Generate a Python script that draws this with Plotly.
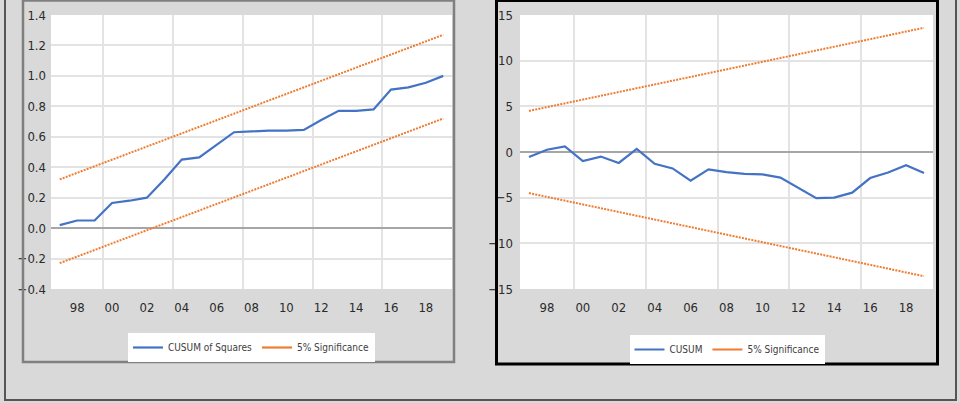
import plotly.graph_objects as go

years = [1997, 1998, 1999, 2000, 2001, 2002, 2003, 2004, 2005, 2006, 2007, 2008,
         2009, 2010, 2011, 2012, 2013, 2014, 2015, 2016, 2017, 2018, 2019]

tick_years = [1998, 2000, 2002, 2004, 2006, 2008, 2010, 2012, 2014, 2016, 2018]
tick_text = ["98", "00", "02", "04", "06", "08", "10", "12", "14", "16", "18"]

cusumsq = [0.02, 0.05, 0.05, 0.165, 0.18, 0.20, 0.32, 0.45, 0.465, 0.55, 0.63, 0.635,
           0.64, 0.64, 0.645, 0.71, 0.77, 0.77, 0.78, 0.91, 0.925, 0.955, 1.0]
cusumsq_upper = [0.32, 0.363, 0.406, 0.45, 0.493, 0.536, 0.579, 0.622, 0.666, 0.709,
                 0.752, 0.795, 0.838, 0.882, 0.925, 0.968, 1.011, 1.054, 1.098, 1.141,
                 1.184, 1.227, 1.27]
cusumsq_lower = [-0.23, -0.187, -0.144, -0.10, -0.057, -0.014, 0.029, 0.072, 0.116,
                 0.159, 0.202, 0.245, 0.288, 0.332, 0.375, 0.418, 0.461, 0.504, 0.548,
                 0.591, 0.634, 0.677, 0.72]

cusum = [-0.55, 0.25, 0.6, -1.0, -0.5, -1.2, 0.35, -1.3, -1.8, -3.15, -1.9, -2.2,
         -2.4, -2.45, -2.8, -3.9, -5.05, -5.0, -4.45, -2.85, -2.25, -1.45, -2.3]
cusum_upper = [4.5, 4.91, 5.33, 5.74, 6.15, 6.57, 6.98, 7.40, 7.81, 8.22, 8.64, 9.05,
               9.46, 9.88, 10.29, 10.70, 11.12, 11.53, 11.95, 12.36, 12.77, 13.19, 13.6]
cusum_lower = [-4.5, -4.91, -5.33, -5.74, -6.15, -6.57, -6.98, -7.40, -7.81, -8.22,
               -8.64, -9.05, -9.46, -9.88, -10.29, -10.70, -11.12, -11.53, -11.95,
               -12.36, -12.77, -13.19, -13.6]

W, H = 960, 403
BLUE = "#4472c4"
ORANGE = "#ed7d31"
FONT = "Liberation Sans Narrow, DejaVu Sans Condensed, Arial Narrow, sans-serif"
DOTS = "2px,1.2px"

fig = go.Figure()


def add_panel(values, upper, lower, label, xa, ya, lg):
    fig.add_trace(go.Scatter(x=years, y=values, mode="lines", name=label,
                             line=dict(color=BLUE, width=2.2), xaxis=xa, yaxis=ya,
                             legend=lg))
    for band in (upper, lower):
        fig.add_trace(go.Scatter(x=years, y=band, mode="lines", name="5% Significance",
                                 line=dict(color=ORANGE, width=2, dash=DOTS),
                                 xaxis=xa, yaxis=ya, showlegend=False))
    # legend-only entry with a solid sample, as in the reference
    fig.add_trace(go.Scatter(x=[None], y=[None], mode="lines", name="5% Significance",
                             line=dict(color=ORANGE, width=2.2), xaxis=xa, yaxis=ya,
                             legend=lg, hoverinfo="skip"))


add_panel(cusumsq, cusumsq_upper, cusumsq_lower, "CUSUM of Squares", "x", "y", "legend")
add_panel(cusum, cusum_upper, cusum_lower, "CUSUM", "x2", "y2", "legend2")

ydom = [1 - 289 / H, 1 - 15 / H]
tickfont = dict(family=FONT, size=13, color="#2b2b2b")
GRID = "#e3e3e3"


def xax(domain, anchor):
    return dict(domain=domain, anchor=anchor, range=[1996.5, 2019.5],
                tickmode="array", tickvals=tick_years, ticktext=tick_text,
                showgrid=False, zeroline=False, showline=False, ticks="outside",
                ticklen=6, tickcolor="rgba(0,0,0,0)", tickfont=tickfont,
                automargin=False,
                minor=dict(tickmode="linear", tick0=1999.5, dtick=4, showgrid=True,
                           gridcolor=GRID, gridwidth=2, ticks=""),
                fixedrange=True)


def yax(anchor, rng, t0, dt, fmt, standoff):
    return dict(domain=ydom, anchor=anchor, range=rng, tickmode="linear",
                tick0=t0, dtick=dt, tickformat=fmt, showgrid=True, gridcolor=GRID,
                gridwidth=2, zeroline=True, zerolinecolor="#a6a6a6", zerolinewidth=2,
                ticks="", ticklabelstandoff=standoff, tickfont=tickfont,
                showline=False, automargin=False, fixedrange=True)


legend_common = dict(orientation="h", xanchor="center", yanchor="top",
                     bgcolor="#ffffff", borderwidth=0,
                     font=dict(family=FONT, size=10, color="#404040"),
                     tracegroupgap=0, itemwidth=30)

fig.update_layout(
    template="none",
    width=W, height=H,
    autosize=False,
    margin=dict(l=0, r=0, t=0, b=0, pad=0, autoexpand=False),
    paper_bgcolor="#d9d9d9",
    plot_bgcolor="#ffffff",
    xaxis=xax([51 / W, 452 / W], "y"),
    xaxis2=xax([520 / W, 933 / W], "y2"),
    yaxis=yax("x", [-0.4, 1.4], -0.4, 0.2, ".1f", 4),
    yaxis2=yax("x2", [-15, 15], -15, 5, "", 6),
    legend=dict(legend_common, x=251.5 / W, y=1 - 333 / H),
    legend2=dict(legend_common, x=727 / W, y=1 - 335 / H),
    showlegend=True,
    shapes=[
        dict(type="rect", xref="paper", yref="paper", x0=5 / W, x1=956 / W,
             y0=1 - 400 / H, y1=1 + 5 / H, line=dict(color="#555555", width=2)),
        dict(type="rect", xref="paper", yref="paper", x0=23 / W, x1=454 / W,
             y0=1 - 362 / H, y1=1 - 0.5 / H, line=dict(color="#808080", width=2.5)),
        dict(type="rect", xref="paper", yref="paper", x0=496.5 / W, x1=937.5 / W,
             y0=1 - 364 / H, y1=1 - 0.5 / H, line=dict(color="#000000", width=3)),
    ],
)

fig.write_html("out.html")
